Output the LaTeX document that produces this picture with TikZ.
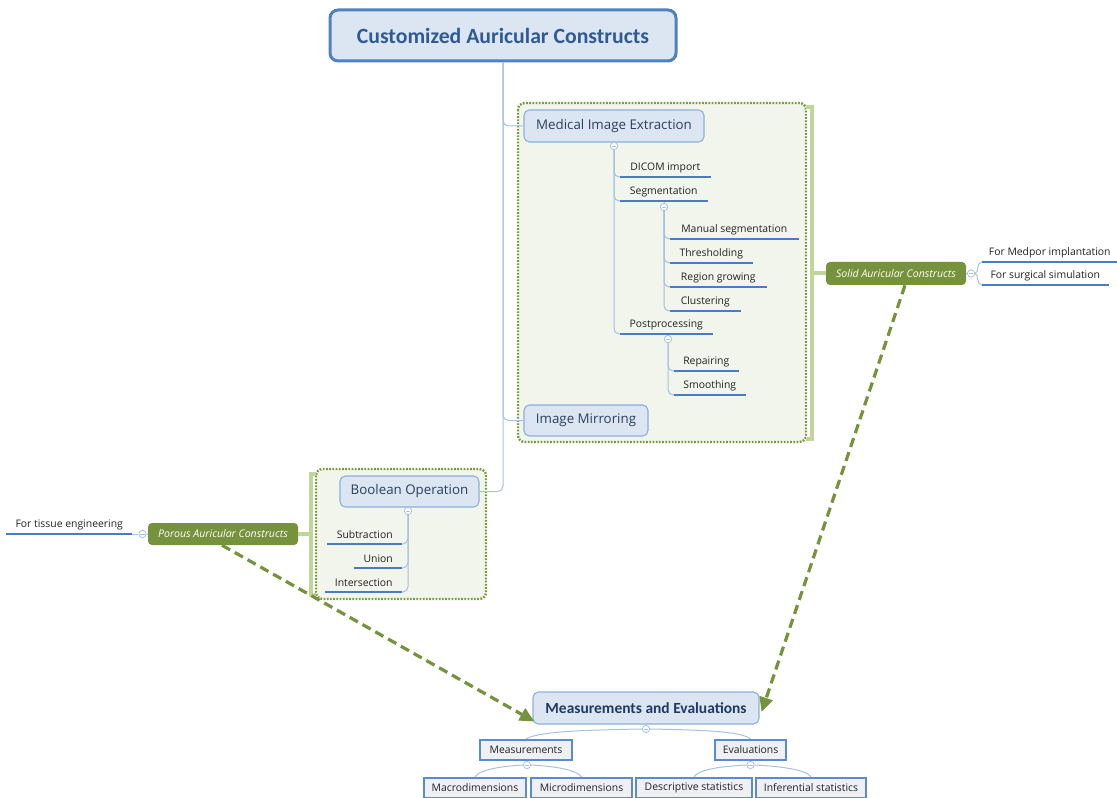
\documentclass[tikz,border=0pt]{standalone}
\usepackage{fontspec}
\setmainfont{Open Sans}
\newfontfamily\headfont{Carlito}
\usetikzlibrary{arrows.meta,calc}

\definecolor{boxfill}{HTML}{DCE6F2}
\definecolor{boxline}{HTML}{8DB0DA}
\definecolor{titleline}{HTML}{4F81BD}
\definecolor{titletext}{HTML}{2F5A93}
\definecolor{metext}{HTML}{1F3864}
\definecolor{boxtext}{HTML}{2B3F5C}
\definecolor{connc}{HTML}{A7C1E0}
\definecolor{ulinec}{HTML}{4A7CC4}
\definecolor{groupfill}{HTML}{F1F5EB}
\definecolor{groupline}{HTML}{7A9A3C}
\definecolor{bracketc}{HTML}{C0D59A}
\definecolor{olive}{HTML}{76923C}
\definecolor{leaffill}{HTML}{EEF0F3}
\definecolor{leafline}{HTML}{5A8AD0}
\definecolor{topictext}{HTML}{222222}

\tikzset{
  titlebox/.style={draw=titleline, fill=boxfill, line width=2.25pt, rounded corners=6pt,
    minimum width=259.5pt, minimum height=38.25pt, inner sep=0pt,
    font=\headfont\bfseries\fontsize{16.3}{19}\selectfont, text=titletext},
  mainbox/.style={draw=boxline, fill=boxfill, line width=0.8pt, rounded corners=4pt,
    inner sep=0pt, font=\fontsize{10}{12}\selectfont, text=boxtext},
  olivebox/.style={fill=olive, rounded corners=3pt, inner sep=0pt,
    font=\itshape\fontsize{7.9}{9}\selectfont, text=white},
  leafbox/.style={draw=leafline, fill=leaffill, line width=1.8pt, inner sep=0pt,
    minimum height=15pt, font=\fontsize{7.8}{9}\selectfont, text=topictext},
  topic/.style={inner sep=0pt, minimum height=13.5pt, minimum width=#1*0.75pt,
    font=\fontsize{7.8}{9}\selectfont, text=topictext},
  uline/.style={draw=ulinec, line width=1.9pt},
  conn/.style={draw=connc, line width=0.75pt, rounded corners=4pt},
  ctl/.style={circle, draw=connc, fill=white, line width=0.6pt, minimum size=5.5pt, inner sep=0pt,
    path picture={\draw[connc, line width=0.5pt]
      ([xshift=-1.6pt]path picture bounding box.center) -- ([xshift=1.6pt]path picture bounding box.center);}},
  group/.style={draw=groupline, fill=groupfill, line width=1.8pt, dash pattern=on 1.3pt off 1.1pt, rounded corners=5pt},
  bracket/.style={draw=bracketc, line width=3.3pt},
  relation/.style={draw=olive, line width=2.4pt, dash pattern=on 7pt off 4pt,
    -{Triangle[length=11pt, width=10pt, fill=olive]}},
}

\begin{document}
\begin{tikzpicture}[x=0.75pt, y=-0.75pt]
\useasboundingbox (0,0) rectangle (1117,798);

% grouped regions with their brackets
\draw[group] (518,103) rectangle (806,442);
\draw[bracket] (806,107) -- (812,107) -- (812,439) -- (806,439);
\coordinate (solidbr) at (812,273.5);
\draw[group] (316,469) rectangle (486,599);
\draw[bracket] (316,474) -- (311,474) -- (311,595) -- (316,595);
\coordinate (porousbr) at (311,534);

% main topics
\node[titlebox] (title) at (503,35.5) {Customized Auricular Constructs};
\node[mainbox, minimum width=135pt, minimum height=24pt] (mie) at (614,126) {Medical Image Extraction};
\node[mainbox, draw=leafline!70, minimum width=93pt, minimum height=23.25pt] (mirror) at (586,420.5) {Image Mirroring};
\node[mainbox, minimum width=104.25pt, minimum height=23.25pt] (bool) at (409.5,491.5) {Boolean Operation};
\node[mainbox, minimum width=169.5pt, minimum height=24pt,
      font=\headfont\bfseries\fontsize{11.6}{14}\selectfont, text=metext] (me) at (646,708) {Measurements and Evaluations};

\draw[conn] (title.south) |- (mie.west);
\draw[conn] (title.south) |- (mirror.west);
\draw[conn] (title.south) |- (bool.east);

% medical image extraction subtree
\node[ctl] (c1) at (614,146) {};
\draw[conn] (mie.south) -- (c1);
\node[topic=90, anchor=south west] (dicom) at (620,177) {DICOM import};
\node[topic=87, anchor=south west] (seg) at (620,201) {Segmentation};
\node[topic=92, anchor=south west] (post) at (620,334) {Postprocessing};
\foreach \n in {dicom,seg,post} \draw[conn] (c1.south) |- (\n.south west);

\node[ctl] (c2) at (664,207) {};
\draw[conn] (seg.south -| c2) -- (c2);
\node[topic=128, anchor=south west] (manual) at (670,239) {Manual segmentation};
\node[topic=82, anchor=south west] (thresh) at (670,263) {Thresholding};
\node[topic=96, anchor=south west] (region) at (670,287) {Region growing};
\node[topic=70, anchor=south west] (clust) at (670,311) {Clustering};
\foreach \n in {manual,thresh,region,clust} \draw[conn] (c2.south) |- (\n.south west);

\node[ctl] (c3) at (668,339) {};
\draw[conn] (post.south -| c3) -- (c3);
\node[topic=64, anchor=south west] (repair) at (674,371) {Repairing};
\node[topic=71, anchor=south west] (smooth) at (674,395) {Smoothing};
\foreach \n in {repair,smooth} \draw[conn] (c3.south) |- (\n.south west);

% boolean operation subtree
\node[ctl] (cb) at (408,511) {};
\draw[conn] (bool.south -| cb) -- (cb);
\node[topic=74, anchor=south east] (subtr) at (402,544) {Subtraction};
\node[topic=47, anchor=south east] (union) at (402,568) {Union};
\node[topic=76, anchor=south east] (inter) at (402,592) {Intersection};
\foreach \n in {subtr,union,inter} \draw[conn] (cb.south) |- (\n.south east);

% solid constructs
\node[olivebox, minimum width=105pt, minimum height=17.25pt] (solid) at (896,273.5) {Solid Auricular Constructs};
\draw[bracket, line width=3pt] (solidbr) -- (solid.west);
\node[ctl] (cs) at (971,273.5) {};
\draw[conn] (solid.east) -- (cs);
\node[topic=135, anchor=south west] (medpor) at (982,262) {For Medpor implantation};
\node[topic=126, anchor=south west] (surg) at (982,285) {For surgical simulation};
\draw[conn] (cs.east) .. controls (979,273.5) and (976,262) .. (medpor.south west);
\draw[conn] (cs.east) .. controls (979,273.5) and (976,285) .. (surg.south west);

% porous constructs
\node[olivebox, minimum width=112.5pt, minimum height=16.5pt] (porous) at (223,534) {Porous Auricular Constructs};
\draw[bracket, line width=3pt] (porousbr) -- (porous.east);
\node[ctl] (cp) at (142.5,534) {};
\draw[conn] (porous.west) -- (cp);
\node[topic=125, anchor=south east] (tissue) at (132,534) {For tissue engineering};
\draw[conn] (cp.west) -- (tissue.south east);

\foreach \n in {dicom,seg,post,manual,thresh,region,clust,repair,smooth,subtr,union,inter,medpor,surg,tissue}
  \draw[uline] (\n.south west) -- (\n.south east);

% relations towards the evaluation stage
\draw[relation] ($(porous.south)+(-1,0)$) -- ($(me.south west)+(2,-3)$);
\draw[relation] ($(solid.south)+(9,0)$) -- ($(me.east)+(2,4)$);

% measurements and evaluations subtree
\node[ctl] (cme) at (646,729) {};
\draw[conn] (me.south) -- (cme);
\node[leafbox, minimum width=69pt] (meas) at (526,750) {Measurements};
\node[leafbox, minimum width=53.25pt] (eval) at (750.5,750) {Evaluations};
\draw[conn] (cme.west) .. controls (590,730) and (540,731) .. (meas.north);
\draw[conn] (cme.east) .. controls (700,730) and (740,731) .. (eval.north);

\node[ctl] (cm) at (527,765) {};
\draw[conn] (meas.south) -- (cm);
\node[leafbox, minimum width=76.5pt] (macro) at (475,788) {Macrodimensions};
\node[leafbox, minimum width=75.75pt] (micro) at (581.5,788) {Microdimensions};
\draw[conn] (cm.west) .. controls (505,766) and (480,769) .. (macro.north);
\draw[conn] (cm.east) .. controls (550,766) and (576,769) .. (micro.north);

\node[ctl] (cev) at (750.5,765) {};
\draw[conn] (eval.south) -- (cev);
\node[leafbox, minimum width=87pt] (desc) at (694,788) {Descriptive statistics};
\node[leafbox, minimum width=82.5pt] (infer) at (811,788) {Inferential statistics};
\draw[conn] (cev.west) .. controls (725,766) and (699,769) .. (desc.north);
\draw[conn] (cev.east) .. controls (775,766) and (806,769) .. (infer.north);
\end{tikzpicture}
\end{document}
